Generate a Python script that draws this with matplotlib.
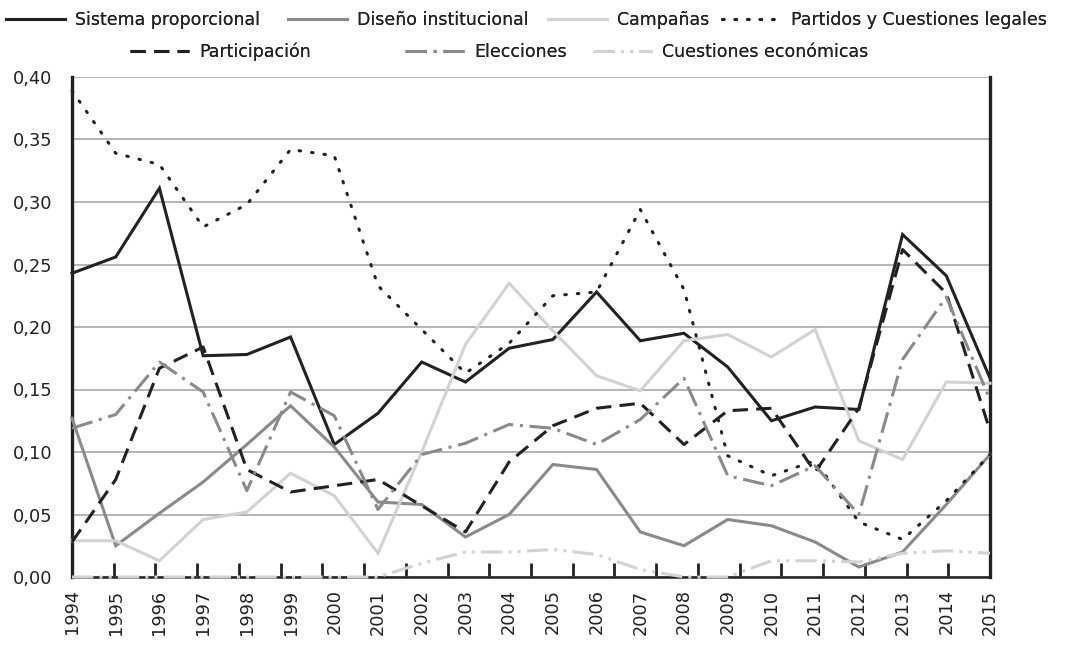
import numpy as np
import matplotlib
matplotlib.use('Agg')
import matplotlib.pyplot as plt

years = list(range(1994, 2016))

sistema = [0.243, 0.256, 0.311, 0.177, 0.178, 0.192, 0.106, 0.131, 0.172, 0.156, 0.183,
           0.190, 0.228, 0.189, 0.195, 0.168, 0.125, 0.136, 0.134, 0.274, 0.241, 0.159]
diseno = [0.127, 0.025, 0.051, 0.076, 0.106, 0.137, 0.104, 0.060, 0.058, 0.032, 0.050,
          0.090, 0.086, 0.036, 0.025, 0.046, 0.041, 0.028, 0.008, 0.020, 0.058, 0.098]
campanas = [0.029, 0.029, 0.013, 0.046, 0.052, 0.083, 0.065, 0.019, 0.100, 0.186, 0.235,
            0.197, 0.161, 0.149, 0.189, 0.194, 0.176, 0.198, 0.109, 0.094, 0.156, 0.155]
partidos = [0.389, 0.339, 0.330, 0.280, 0.298, 0.342, 0.337, 0.233, 0.198, 0.163, 0.187,
            0.225, 0.228, 0.294, 0.230, 0.097, 0.081, 0.093, 0.044, 0.030, 0.061, 0.098]
participacion = [0.028, 0.078, 0.167, 0.184, 0.086, 0.068, 0.073, 0.078, 0.057, 0.036, 0.092,
                 0.121, 0.135, 0.139, 0.106, 0.133, 0.135, 0.084, 0.135, 0.262, 0.227, 0.117]
elecciones = [0.119, 0.130, 0.172, 0.148, 0.069, 0.148, 0.129, 0.054, 0.098, 0.107, 0.122,
              0.119, 0.106, 0.126, 0.159, 0.081, 0.073, 0.089, 0.050, 0.174, 0.224, 0.142]
economicas = [0.0, 0.0, 0.0, 0.0, 0.0, 0.0, 0.0, 0.0, 0.011, 0.020, 0.020,
              0.022, 0.018, 0.006, 0.0, 0.0, 0.013, 0.013, 0.012, 0.019, 0.021, 0.019]

dark = '#222222'
mid = '#8a8a8a'
light = '#d2d2d2'
lw = 2.2

# label, values, colour, dash pattern (None = solid)
series = [
    ('Sistema proporcional', sistema, dark, None),
    ('Diseño institucional', diseno, mid, None),
    ('Campañas', campanas, light, None),
    ('Partidos y Cuestiones legales', partidos, dark, (0.5, 3.6)),
    ('Participación', participacion, dark, (5, 2.7)),
    ('Elecciones', elecciones, mid, (7, 2.2, 1, 2.2)),
    ('Cuestiones económicas', economicas, light, (7, 2, 1, 2, 1, 2)),
]

fig = plt.figure(figsize=(10.66, 6.46), dpi=100)
ax = fig.add_axes([72 / 1066, 1 - 577 / 646, (990 - 72) / 1066, 500 / 646])

handles = {}
for name, vals, col, dash in series:
    ln, = ax.plot(years, vals, color=col, lw=lw, clip_on=False, zorder=3,
                  solid_joinstyle='miter')
    if dash is not None:
        ln.set_dashes(dash)
        if dash[0] < 1:
            ln.set_dash_capstyle('round')
    handles[name] = ln

ax.set_xlim(1994, 2015)
ax.set_ylim(0, 0.40)

yt = np.arange(0, 0.401, 0.05)
ax.set_yticks(yt)
ax.set_yticklabels([f'{v:.2f}'.replace('.', ',') for v in yt])
ax.yaxis.grid(True, color='#a0a0a0', lw=1.1, zorder=0)
ax.set_axisbelow(True)
ax.tick_params(axis='y', length=0, pad=14, labelsize=12.8, labelcolor='#222222')

ax.set_xticks(years)
ax.set_xticklabels([str(y) for y in years], rotation=90)
ax.tick_params(axis='x', which='major', length=0, pad=9, labelsize=12.8,
               labelcolor='#222222')
# the small tick marks sit on their own spacing, not on the years
ax.set_xticks([1994 + k * 21 / 22 for k in range(1, 22)], minor=True)
ax.tick_params(axis='x', which='minor', direction='in', length=10, width=2,
               color=dark)

ax.spines['top'].set_visible(False)
for s in ['left', 'right']:
    ax.spines[s].set_color(dark)
    ax.spines[s].set_linewidth(2.4)
ax.spines['bottom'].set_color(dark)
ax.spines['bottom'].set_linewidth(1.8)
for s in ax.spines.values():
    s.set_zorder(2.5)

# legend entries placed one by one (x start in px, y centre in px)
legend_pos = {
    'Sistema proporcional': (6, 20),
    'Diseño institucional': (288, 20),
    'Campañas': (548, 20),
    'Partidos y Cuestiones legales': (722, 20),
    'Participación': (130, 52),
    'Elecciones': (405, 52),
    'Cuestiones económicas': (593, 52),
}
for name, (px, py) in legend_pos.items():
    leg = fig.legend([handles[name]], [name], loc='center left',
                     bbox_to_anchor=(px / 1066, 1 - py / 646), frameon=False,
                     fontsize=12.5, handlelength=3.4, handletextpad=0.6,
                     borderpad=0, borderaxespad=0)
    leg.get_texts()[0].set_color('#222222')
    fig.add_artist(leg)

fig.savefig('out.png', dpi=100, facecolor='white')
